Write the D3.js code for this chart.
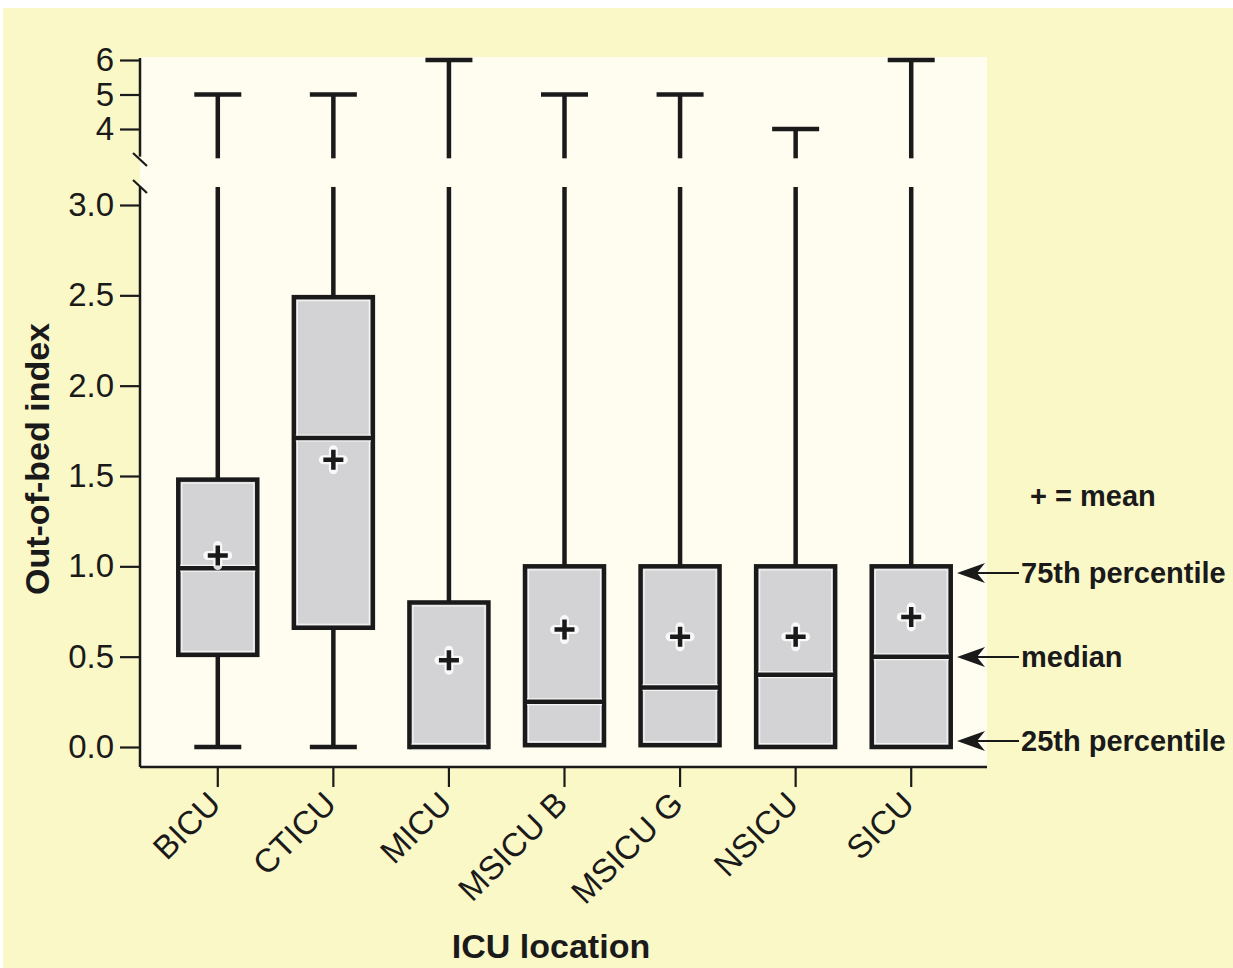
<!DOCTYPE html>
<html>
<head>
<meta charset="utf-8">
<script src="https://cdn.jsdelivr.net/npm/d3@7"></script>
<style>
  body { margin: 0; background: #fff; }
  svg text { font-family: "Liberation Sans", Arial, Helvetica, sans-serif; fill: #1a1a1a; }
</style>
</head>
<body>
<div id="chart"></div>
<script>
// data
var categories = ["BICU", "CTICU", "MICU", "MSICU B", "MSICU G", "NSICU", "SICU"];
var minValues = [0, 0, 0, 0.01, 0.01, 0, 0];
var q1Values = [0.51, 0.66, 0, 0.01, 0.01, 0, 0];
var medianValues = [0.99, 1.71, 0, 0.25, 0.33, 0.4, 0.5];
var q3Values = [1.48, 2.49, 0.8, 1.0, 1.0, 1.0, 1.0];
var meanValues = [1.06, 1.59, 0.48, 0.65, 0.61, 0.61, 0.72];
var maxValues = [5, 5, 6, 5, 5, 4, 6];

var lowTicks = [0, 0.5, 1.0, 1.5, 2.0, 2.5, 3.0];
var highTicks = [4, 5, 6];
var legendLabels = ["75th percentile", "median", "25th percentile"];

// layout settings
var cfg = {
    w: 1233, h: 968,
    plot: {x0: 140, x1: 987, y0: 57, y1: 767},
    lowRange: [747, 205],
    highRange: [129, 60],
    breakLow: 3.1,    // top of the lower panel
    breakHigh: 3.15,  // bottom of the upper panel
    boxWidth: 79,
    capWidth: 47,
    legendY: [573, 657, 741], // arrow heights
    ink: "#1a1a1a",
    boxFill: "#d3d3d5",
    outerBg: "#fbf8c8",
    plotBg: "#fffdef"
};

var data = categories.map(function (c, i) {
    return {name: c, min: minValues[i], q1: q1Values[i], med: medianValues[i],
        q3: q3Values[i], mean: meanValues[i], max: maxValues[i]};
});

var svg = d3.select("#chart").append("svg")
        .attr("width", cfg.w).attr("height", cfg.h);

// backgrounds
svg.append("rect").attr("x", 3).attr("y", 8)
        .attr("width", cfg.w - 3).attr("height", cfg.h - 8)
        .attr("fill", cfg.outerBg);
svg.append("rect").attr("x", cfg.plot.x0).attr("y", cfg.plot.y0)
        .attr("width", cfg.plot.x1 - cfg.plot.x0)
        .attr("height", cfg.plot.y1 - cfg.plot.y0)
        .attr("fill", cfg.plotBg);

// scales
var xscale = d3.scaleBand().domain(categories).range([160, 969]);
var yLow = d3.scaleLinear().domain([0, 3]).range(cfg.lowRange);
var yHigh = d3.scaleLinear().domain([4, 6]).range(cfg.highRange);
var xc = function (d) { return xscale(d.name) + xscale.bandwidth() / 2; };

// y axes (broken)
var gLow = svg.append("g").attr("transform", "translate(" + cfg.plot.x0 + ",0)")
        .call(d3.axisLeft(yLow).tickValues(lowTicks).tickFormat(d3.format(".1f"))
            .tickSize(20).tickPadding(6));
gLow.select("path.domain").attr("d", "M0," + cfg.plot.y1 + "V" + yLow(cfg.breakLow));

var gHigh = svg.append("g").attr("transform", "translate(" + cfg.plot.x0 + ",0)")
        .call(d3.axisLeft(yHigh).tickValues(highTicks).tickFormat(d3.format("d"))
            .tickSize(20).tickPadding(6));
gHigh.select("path.domain").attr("d", "M0," + (yHigh(6) - 2) + "V" + yHigh(3.2));

// x axis
var gx = svg.append("g").attr("transform", "translate(0," + cfg.plot.y1 + ")")
        .call(d3.axisBottom(xscale).tickSize(20).tickSizeOuter(0));
gx.select("path.domain").attr("d", "M" + cfg.plot.x0 + ",0H" + cfg.plot.x1);
gx.selectAll(".tick text")
        .attr("text-anchor", "end")
        .attr("transform", "translate(-12,22) rotate(-45)")
        .attr("dy", "0.72em").attr("y", 0).attr("x", 0);

svg.selectAll(".domain").attr("stroke", cfg.ink).attr("stroke-width", 2.5);
svg.selectAll(".tick line").attr("stroke", cfg.ink).attr("stroke-width", 2.2);
gLow.selectAll(".tick text").attr("font-size", 33).attr("fill", cfg.ink);
gHigh.selectAll(".tick text").attr("font-size", 33).attr("fill", cfg.ink);
gx.selectAll(".tick text").attr("font-size", 33).attr("fill", cfg.ink);

// break marks on the y axis
svg.selectAll(".brk").data([153, 180]).enter().append("line")
        .attr("x1", cfg.plot.x0 - 7).attr("x2", cfg.plot.x0 + 7)
        .attr("y1", function (d) { return d; })
        .attr("y2", function (d) { return d + 13; })
        .attr("stroke", cfg.ink).attr("stroke-width", 2.2);

// axis titles
svg.append("text").text("Out-of-bed index")
        .attr("transform", "translate(49,459) rotate(-90)")
        .attr("text-anchor", "middle")
        .attr("font-size", 34).attr("font-weight", "bold");
svg.append("text").text("ICU location")
        .attr("x", 551).attr("y", 958)
        .attr("text-anchor", "middle")
        .attr("font-size", 34).attr("font-weight", "bold");

// boxes
var bx = svg.append("g");
var w4 = 4.5;

// lower whiskers with caps
bx.selectAll(".lw").data(data.filter(function (d) { return d.q1 > d.min; }))
        .enter().append("line")
        .attr("x1", xc).attr("x2", xc)
        .attr("y1", function (d) { return yLow(d.q1); })
        .attr("y2", function (d) { return yLow(d.min); })
        .attr("stroke", cfg.ink).attr("stroke-width", w4);
bx.selectAll(".lc").data(data.filter(function (d) { return d.q1 > d.min; }))
        .enter().append("line")
        .attr("x1", function (d) { return xc(d) - cfg.capWidth / 2; })
        .attr("x2", function (d) { return xc(d) + cfg.capWidth / 2; })
        .attr("y1", function (d) { return yLow(d.min); })
        .attr("y2", function (d) { return yLow(d.min); })
        .attr("stroke", cfg.ink).attr("stroke-width", w4);

// upper whiskers, split at the break
bx.selectAll(".uw1").data(data).enter().append("line")
        .attr("x1", xc).attr("x2", xc)
        .attr("y1", function (d) { return yLow(d.q3); })
        .attr("y2", yLow(cfg.breakLow))
        .attr("stroke", cfg.ink).attr("stroke-width", w4);
bx.selectAll(".uw2").data(data).enter().append("line")
        .attr("x1", xc).attr("x2", xc)
        .attr("y1", yHigh(cfg.breakHigh))
        .attr("y2", function (d) { return yHigh(d.max); })
        .attr("stroke", cfg.ink).attr("stroke-width", w4);
bx.selectAll(".uc").data(data).enter().append("line")
        .attr("x1", function (d) { return xc(d) - cfg.capWidth / 2; })
        .attr("x2", function (d) { return xc(d) + cfg.capWidth / 2; })
        .attr("y1", function (d) { return yHigh(d.max); })
        .attr("y2", function (d) { return yHigh(d.max); })
        .attr("stroke", cfg.ink).attr("stroke-width", w4);

// box bodies
bx.selectAll(".box").data(data).enter().append("rect")
        .attr("x", function (d) { return xc(d) - cfg.boxWidth / 2; })
        .attr("width", cfg.boxWidth)
        .attr("y", function (d) { return yLow(d.q3); })
        .attr("height", function (d) { return yLow(d.q1) - yLow(d.q3); })
        .attr("fill", cfg.boxFill)
        .attr("stroke", cfg.ink).attr("stroke-width", w4);
bx.selectAll(".boxin").data(data).enter().append("rect")
        .attr("x", function (d) { return xc(d) - cfg.boxWidth / 2 + 3.5; })
        .attr("width", cfg.boxWidth - 7)
        .attr("y", function (d) { return yLow(d.q3) + 3.5; })
        .attr("height", function (d) { return Math.max(0, yLow(d.q1) - yLow(d.q3) - 7); })
        .attr("fill", "none")
        .attr("stroke", "#f4f4f4").attr("stroke-width", 1.2);

// medians
bx.selectAll(".medh").data(data).enter().append("line")
        .attr("x1", function (d) { return xc(d) - cfg.boxWidth / 2 + 2; })
        .attr("x2", function (d) { return xc(d) + cfg.boxWidth / 2 - 2; })
        .attr("y1", function (d) { return yLow(d.med); })
        .attr("y2", function (d) { return yLow(d.med); })
        .attr("stroke", "#f4f4f4").attr("stroke-width", 7);
bx.selectAll(".med").data(data).enter().append("line")
        .attr("x1", function (d) { return xc(d) - cfg.boxWidth / 2; })
        .attr("x2", function (d) { return xc(d) + cfg.boxWidth / 2; })
        .attr("y1", function (d) { return yLow(d.med); })
        .attr("y2", function (d) { return yLow(d.med); })
        .attr("stroke", cfg.ink).attr("stroke-width", w4);

// means
var plus = function (d) {
    var x = xc(d), y = yLow(d.mean), s = 10;
    return "M" + (x - s) + "," + y + "H" + (x + s) + "M" + x + "," + (y - s) + "V" + (y + s);
};
bx.selectAll(".meanh").data(data).enter().append("path")
        .attr("d", plus).attr("stroke", "#ffffff").attr("stroke-width", 9)
        .attr("stroke-linecap", "round").attr("opacity", 0.85);
bx.selectAll(".mean").data(data).enter().append("path")
        .attr("d", plus).attr("stroke", cfg.ink).attr("stroke-width", 4.5);

// legend
svg.append("text").text("+ = mean")
        .attr("x", 1030).attr("y", 506)
        .attr("font-size", 29).attr("font-weight", "bold");

var lg = svg.append("g");
lg.selectAll("line").data(cfg.legendY).enter().append("line")
        .attr("x1", 975).attr("x2", 1019)
        .attr("y1", function (d) { return d; })
        .attr("y2", function (d) { return d; })
        .attr("stroke", cfg.ink).attr("stroke-width", 2.2);
lg.selectAll("path").data(cfg.legendY).enter().append("path")
        .attr("d", function (y) {
            var x = 957;
            return "M" + x + "," + y + "L" + (x + 28) + "," + (y - 10) +
                    "L" + (x + 20) + "," + y + "L" + (x + 28) + "," + (y + 10) + "Z";
        })
        .attr("fill", cfg.ink);
lg.selectAll("text").data(cfg.legendY).enter().append("text")
        .text(function (d, i) { return legendLabels[i]; })
        .attr("x", 1021)
        .attr("y", function (d) { return d; })
        .attr("dy", "0.36em")
        .attr("font-size", 29).attr("font-weight", "bold");
</script>
</body>
</html>
